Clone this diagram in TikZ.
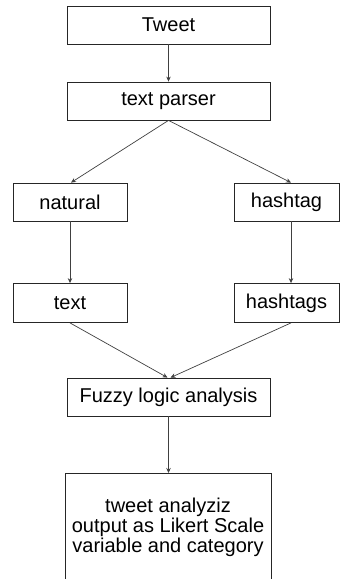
\documentclass[tikz,border=0pt]{standalone}
\usepackage{fontspec}
\setmainfont{Liberation Sans}
\usetikzlibrary{arrows.meta}
\begin{document}
\begin{tikzpicture}[x=1pt,y=-1pt,
  box/.style={draw=black!85,line width=0.8pt,rectangle,inner sep=0pt,minimum height=38pt,font=\fontsize{20}{20}\selectfont},
  conn/.style={draw=black!75,line width=0.7pt,-{Stealth[length=5pt,width=4.5pt]}}]
\useasboundingbox (0,0) rectangle (340,579);
\node[box,minimum width=203pt] (tweet) at (168.5,25) {Tweet};
\node[box,minimum width=203pt] (parser) at (168.5,101) {text parser};
\node[box,minimum width=114pt] (natural) at (70,202) {natural};
\node[box,minimum width=105pt] (hashtag) at (286.5,202) {hashtag};
\node[box,minimum width=114pt,minimum height=39pt] (text) at (70,303) {text};
\node[box,minimum width=105pt,minimum height=39pt] (hashtags) at (286.5,303) {hashtags};
\node[box,minimum width=203pt] (fuzzy) at (168.5,397) {Fuzzy logic analysis};
\coordinate (otl) at (65,473);
\coordinate (otr) at (271,473);
\coordinate (obl) at (65,580);
\coordinate (obr) at (271,580);
\coordinate (otop) at (168.5,473);
\draw[black!85,line width=0.8pt] (obl) -- (otl) -- (otr) -- (obr);
\node[align=center,inner sep=0pt,font=\fontsize{20}{20}\selectfont] (output) at (168,527) {tweet analyziz\\output as Likert Scale\\variable and category};
\draw[conn] (tweet) -- (parser);
\draw[conn] (parser.south) -- ([xshift=1pt]natural.north);
\draw[conn] (parser.south) -- ([xshift=4.5pt]hashtag.north);
\draw[conn] (natural) -- (text);
\draw[conn] ([xshift=4.5pt]hashtag.south) -- ([xshift=4.5pt]hashtags.north);
\draw[conn] (text.south) -- ([xshift=-1pt]fuzzy.north);
\draw[conn] ([xshift=4.5pt]hashtags.south) -- ([xshift=2pt]fuzzy.north);
\draw[conn] (fuzzy) -- (otop);
\end{tikzpicture}
\end{document}
